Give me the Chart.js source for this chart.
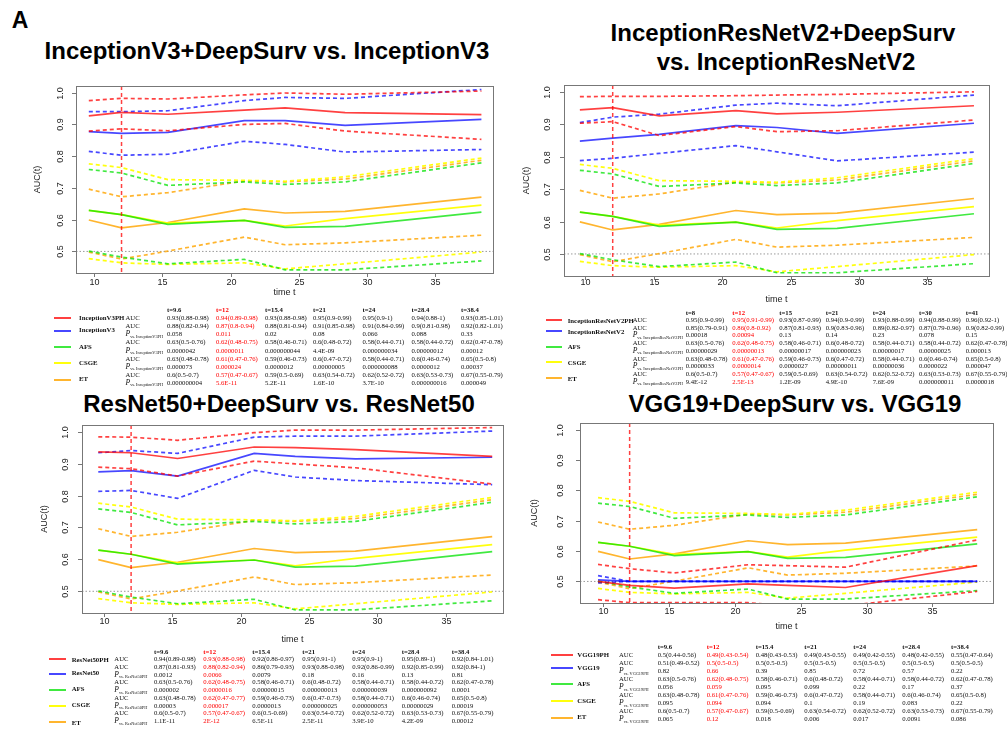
<!DOCTYPE html>
<html>
<head>
<meta charset="utf-8">
<script src="https://cdn.jsdelivr.net/npm/chart.js@4.4.1/dist/chart.umd.min.js"></script>
<style>
  body { margin: 0; background: #fff; width: 1007px; height: 731px; position: relative; overflow: hidden;
         font-family: "Liberation Sans", Arial, sans-serif; }
  canvas { position: absolute; }
  .ttl { position: absolute; font-weight: bold; font-size: 24px; line-height: 24px; white-space: nowrap;
         transform: translateX(-50%); color: #000; }
  .cell { position: absolute; font-family: "Liberation Serif", "Times New Roman", serif; font-size: 6.7px;
          line-height: 8px; white-space: nowrap; color: #111; }
  .hd { font-weight: bold; }
  .nm { font-weight: bold; font-size: 6.8px; }
  .pl i { font-size: 7.6px; }
  .pl span { font-size: 4.3px; position: relative; top: 1.5px; }
  .key { position: absolute; height: 2px; }
</style>
</head>
<body>
<div class="ttl" style="left:20px;top:9px;font-size:23px;line-height:23px;">A</div>
<div class="ttl" style="left:267px;top:39px;">InceptionV3+DeepSurv vs. InceptionV3</div>
<div class="ttl" style="left:783px;top:21px;">InceptionResNetV2+DeepSurv</div>
<div class="ttl" style="left:786px;top:50px;">vs. InceptionResNetV2</div>
<div class="ttl" style="left:279px;top:392px;">ResNet50+DeepSurv vs. ResNet50</div>
<div class="ttl" style="left:795px;top:392px;">VGG19+DeepSurv vs. VGG19</div>

<script>
// time points shown on the curves
const times = [9.6, 12, 15.4, 21, 24, 28.4, 38.4];
const markT = 12;      // red vertical marker
const refAuc = 0.5;    // grey dotted reference
const xTicks = [10, 15, 20, 25, 30, 35];
const yTicks = [0.5, 0.6, 0.7, 0.8, 0.9, 1.0];

// comparison models (same in every panel): AUC, lower, upper
const afsAuc  = [0.629, 0.616, 0.585, 0.598, 0.576, 0.579, 0.624];
const afsLo   = [0.501, 0.482, 0.461, 0.475, 0.442, 0.442, 0.470];
const afsHi   = [0.758, 0.747, 0.708, 0.719, 0.711, 0.719, 0.779];
const csgeAuc = [0.629, 0.616, 0.589, 0.598, 0.580, 0.603, 0.646];
const csgeLo  = [0.477, 0.464, 0.459, 0.464, 0.445, 0.461, 0.498];
const csgeHi  = [0.776, 0.764, 0.726, 0.724, 0.721, 0.735, 0.794];
const etAuc   = [0.599, 0.574, 0.591, 0.634, 0.621, 0.626, 0.671];
const etLo    = [0.498, 0.476, 0.501, 0.545, 0.521, 0.527, 0.551];
const etHi    = [0.696, 0.672, 0.685, 0.722, 0.719, 0.728, 0.787];

// InceptionV3
const incV3PhAuc = [0.927, 0.938, 0.932, 0.945, 0.952, 0.937, 0.931];
const incV3PhLo  = [0.879, 0.886, 0.880, 0.900, 0.903, 0.879, 0.853];
const incV3PhHi  = [0.975, 0.982, 0.980, 0.993, 0.999, 0.995, 1.005];
const incV3Auc   = [0.877, 0.872, 0.875, 0.912, 0.912, 0.897, 0.916];
const incV3Lo    = [0.815, 0.803, 0.806, 0.847, 0.837, 0.813, 0.821];
const incV3Hi    = [0.940, 0.940, 0.943, 0.975, 0.985, 0.982, 1.010];
// InceptionResNetV2
const incResPhAuc = [0.944, 0.951, 0.926, 0.942, 0.932, 0.937, 0.957];
const incResPhLo  = [0.903, 0.908, 0.865, 0.893, 0.877, 0.880, 0.913];
const incResPhHi  = [0.985, 0.986, 0.986, 0.988, 0.990, 0.992, 1.000];
const incResAuc   = [0.848, 0.857, 0.869, 0.896, 0.890, 0.872, 0.903];
const incResLo    = [0.788, 0.795, 0.810, 0.834, 0.815, 0.787, 0.814];
const incResHi    = [0.905, 0.922, 0.931, 0.959, 0.965, 0.957, 0.990];
// ResNet50
const resPhAuc = [0.937, 0.934, 0.916, 0.952, 0.950, 0.944, 0.923];
const resPhLo  = [0.889, 0.884, 0.861, 0.908, 0.899, 0.887, 0.836];
const resPhHi  = [0.984, 0.983, 0.973, 0.997, 1.005, 1.005, 1.013];
const resAuc   = [0.874, 0.878, 0.861, 0.932, 0.923, 0.915, 0.920];
const resLo    = [0.813, 0.816, 0.791, 0.879, 0.858, 0.847, 0.834];
const resHi    = [0.934, 0.941, 0.932, 0.983, 0.986, 0.986, 1.002];
// VGG19
const vggPhAuc = [0.500, 0.487, 0.478, 0.492, 0.487, 0.480, 0.552];
const vggPhLo  = [0.440, 0.430, 0.430, 0.430, 0.420, 0.420, 0.467];
const vggPhHi  = [0.556, 0.542, 0.528, 0.555, 0.552, 0.547, 0.637];
const vggAuc   = [0.505, 0.500, 0.500, 0.500, 0.500, 0.500, 0.500];
const vggLo    = [0.495, 0.500, 0.500, 0.500, 0.500, 0.500, 0.500];
const vggHi    = [0.519, 0.500, 0.500, 0.500, 0.500, 0.500, 0.500];

// table texts
const headV3  = ['t=9.6', 't=12', 't=15.4', 't=21', 't=24', 't=28.4', 't=38.4'];
const headIR  = ['t=8', 't=12', 't=15', 't=21', 't=24', 't=30', 't=41'];
const afsTxt  = ['0.63(0.5-0.76)', '0.62(0.48-0.75)', '0.58(0.46-0.71)', '0.6(0.48-0.72)', '0.58(0.44-0.71)', '0.58(0.44-0.72)', '0.62(0.47-0.78)'];
const csgeTxt = ['0.63(0.48-0.78)', '0.61(0.47-0.76)', '0.59(0.46-0.73)', '0.6(0.47-0.72)', '0.58(0.44-0.71)', '0.6(0.46-0.74)', '0.65(0.5-0.8)'];
const csgeTxtRes = ['0.63(0.48-0.78)', '0.62(0.47-0.77)', '0.59(0.46-0.73)', '0.6(0.47-0.73)', '0.58(0.44-0.71)', '0.6(0.46-0.74)', '0.65(0.5-0.8)'];
const etTxt   = ['0.6(0.5-0.7)', '0.57(0.47-0.67)', '0.59(0.5-0.69)', '0.63(0.54-0.72)', '0.62(0.52-0.72)', '0.63(0.53-0.73)', '0.67(0.55-0.79)'];
const etTxtRes = ['0.6(0.5-0.7)', '0.57(0.47-0.67)', '0.6(0.5-0.69)', '0.63(0.54-0.72)', '0.62(0.52-0.72)', '0.63(0.53-0.73)', '0.67(0.55-0.79)'];

const v3PhTxt  = ['0.93(0.88-0.98)', '0.94(0.89-0.98)', '0.93(0.88-0.98)', '0.95(0.9-0.99)', '0.95(0.9-1)', '0.94(0.88-1)', '0.93(0.85-1.01)'];
const v3Txt    = ['0.88(0.82-0.94)', '0.87(0.8-0.94)', '0.88(0.81-0.94)', '0.91(0.85-0.98)', '0.91(0.84-0.99)', '0.9(0.81-0.98)', '0.92(0.82-1.01)'];
const v3P      = ['0.058', '0.011', '0.02', '0.08', '0.066', '0.088', '0.33'];
const v3PAfs   = ['0.0000042', '0.0000011', '0.000000044', '4.4E-09', '0.000000034', '0.00000012', '0.00012'];
const v3PCsge  = ['0.000073', '0.000024', '0.0000012', '0.00000005', '0.000000088', '0.0000012', '0.00037'];
const v3PEt    = ['0.000000004', '5.6E-11', '5.2E-11', '1.6E-10', '3.7E-10', '0.000000016', '0.000049'];

const irPhTxt  = ['0.95(0.9-0.99)', '0.95(0.91-0.99)', '0.93(0.87-0.99)', '0.94(0.9-0.99)', '0.93(0.88-0.99)', '0.94(0.88-0.99)', '0.96(0.92-1)'];
const irTxt    = ['0.85(0.79-0.91)', '0.86(0.8-0.92)', '0.87(0.81-0.93)', '0.9(0.83-0.96)', '0.89(0.82-0.97)', '0.87(0.79-0.96)', '0.9(0.82-0.99)'];
const irP      = ['0.00018', '0.00094', '0.13', '0.14', '0.23', '0.078', '0.15'];
const irPAfs   = ['0.00000029', '0.00000013', '0.00000017', '0.000000023', '0.00000017', '0.00000025', '0.000013'];
const irPCsge  = ['0.0000033', '0.0000014', '0.0000027', '0.00000011', '0.00000036', '0.0000022', '0.000047'];
const irPEt    = ['9.4E-12', '2.5E-13', '1.2E-09', '4.9E-10', '7.6E-09', '0.000000011', '0.0000018'];

const rnPhTxt  = ['0.94(0.89-0.98)', '0.93(0.88-0.98)', '0.92(0.86-0.97)', '0.95(0.91-1)', '0.95(0.9-1)', '0.95(0.89-1)', '0.92(0.84-1.01)'];
const rnTxt    = ['0.87(0.81-0.93)', '0.88(0.82-0.94)', '0.86(0.79-0.93)', '0.93(0.88-0.98)', '0.92(0.86-0.99)', '0.92(0.85-0.99)', '0.92(0.84-1)'];
const rnP      = ['0.0012', '0.0066', '0.0079', '0.18', '0.16', '0.13', '0.81'];
const rnPAfs   = ['0.000002', '0.0000016', '0.00000015', '0.000000013', '0.000000039', '0.000000092', '0.0001'];
const rnPCsge  = ['0.00003', '0.000017', '0.0000013', '0.000000025', '0.000000053', '0.00000029', '0.00019'];
const rnPEt    = ['1.1E-11', '2E-12', '6.5E-11', '2.5E-11', '3.9E-10', '4.2E-09', '0.00012'];

const vgPhTxt  = ['0.5(0.44-0.56)', '0.49(0.43-0.54)', '0.48(0.43-0.53)', '0.49(0.43-0.55)', '0.49(0.42-0.55)', '0.48(0.42-0.55)', '0.55(0.47-0.64)'];
const vgTxt    = ['0.51(0.49-0.52)', '0.5(0.5-0.5)', '0.5(0.5-0.5)', '0.5(0.5-0.5)', '0.5(0.5-0.5)', '0.5(0.5-0.5)', '0.5(0.5-0.5)'];
const vgP      = ['0.82', '0.66', '0.39', '0.85', '0.72', '0.57', '0.22'];
const vgPAfs   = ['0.056', '0.059', '0.095', '0.099', '0.22', '0.17', '0.37'];
const vgPCsge  = ['0.095', '0.094', '0.094', '0.1', '0.19', '0.083', '0.22'];
const vgPEt    = ['0.065', '0.12', '0.018', '0.006', '0.017', '0.0091', '0.086'];

const colors = ['rgba(255,0,0,0.75)', 'rgba(0,0,255,0.72)', 'rgba(0,225,0,0.75)', 'rgba(255,255,0,0.95)', 'rgba(255,165,0,0.82)'];

// R-like frame: box, ticks, rotated y labels, reference lines
const rFrame = {
  id: 'rFrame',
  beforeDatasetsDraw(chart) {
    const { ctx, chartArea: a, scales: { y } } = chart;
    const yy = y.getPixelForValue(refAuc);
    ctx.save();
    ctx.strokeStyle = '#999';
    ctx.lineWidth = 1;
    ctx.setLineDash([1.5, 2]);
    ctx.beginPath(); ctx.moveTo(a.left, yy); ctx.lineTo(a.right, yy); ctx.stroke();
    ctx.restore();
  },
  afterDatasetsDraw(chart) {
    const { ctx, chartArea: a, scales: { x } } = chart;
    const xx = x.getPixelForValue(markT);
    ctx.save();
    ctx.strokeStyle = 'rgba(255,0,0,0.75)';
    ctx.lineWidth = 1.5;
    ctx.setLineDash([4, 3]);
    ctx.beginPath(); ctx.moveTo(xx, a.top); ctx.lineTo(xx, a.bottom); ctx.stroke();
    ctx.restore();
  },
  afterDraw(chart, args, o) {
    const { ctx, chartArea: a, scales: { x, y } } = chart;
    ctx.save();
    ctx.strokeStyle = '#777';
    ctx.lineWidth = 1;
    ctx.strokeRect(Math.round(a.left) + 0.5, Math.round(a.top) + 0.5, Math.round(a.right - a.left), Math.round(a.bottom - a.top));
    ctx.fillStyle = '#222';
    ctx.font = '9px "Liberation Sans", Arial, sans-serif';
    ctx.textAlign = 'center';
    ctx.textBaseline = 'middle';
    xTicks.forEach(t => {
      const px = Math.round(x.getPixelForValue(t)) + 0.5;
      ctx.beginPath(); ctx.moveTo(px, a.bottom); ctx.lineTo(px, a.bottom + 4); ctx.stroke();
      ctx.fillText(String(t), px, a.bottom + o.xtickDy);
    });
    yTicks.forEach(t => {
      const py = Math.round(y.getPixelForValue(t)) + 0.5;
      ctx.beginPath(); ctx.moveTo(a.left, py); ctx.lineTo(a.left - 4, py); ctx.stroke();
      ctx.save();
      ctx.translate(a.left - o.ytickDx, py);
      ctx.rotate(-Math.PI / 2);
      ctx.fillText(t.toFixed(1), 0, 0);
      ctx.restore();
    });
    ctx.fillText('time t', (a.left + a.right) / 2, a.bottom + o.xlabDy);
    ctx.save();
    ctx.translate(a.left - o.ylabDx, (a.top + a.bottom) / 2);
    ctx.rotate(-Math.PI / 2);
    ctx.fillText('AUC(t)', 0, 0);
    ctx.restore();
    ctx.restore();
  }
};

const panels = [
  { box: [76, 86, 493, 273], xr: [8.66, 39.25], yr: [0.432, 1.021],
    series: [[incV3PhAuc, incV3PhLo, incV3PhHi], [incV3Auc, incV3Lo, incV3Hi]],
    frame: { xtickDy: 9.5, xlabDy: 19.5, ytickDx: 15.5, ylabDx: 38 },
    head: headV3, names: ['InceptionV3PH', 'InceptionV3', 'AFS', 'CSGE', 'ET'], sub: 'vs. InceptionV3PH',
    rows: [v3PhTxt, v3Txt, v3P, afsTxt, v3PAfs, csgeTxt, v3PCsge, etTxt, v3PEt],
    tab: { colX: [167, 216, 265, 313, 362.5, 411.5, 461], headY: 310, rowY: 318.3, step: 8.05, labX: 125.5,
           keyX: 54, keyW: 17, nameX: 79, keyY: [318.3, 331, 347.3, 362.7, 380], nameY: [318.3, 329.5, 347.3, 362.7, 379.3] } },
  { box: [564, 85, 989, 276], xr: [8.44, 39.5], yr: [0.432, 1.021],
    series: [[incResPhAuc, incResPhLo, incResPhHi], [incResAuc, incResLo, incResHi]],
    frame: { xtickDy: 7, xlabDy: 23.5, ytickDx: 16, ylabDx: 37 },
    head: headIR, names: ['InceptionResNetV2PH', 'InceptionResNetV2', 'AFS', 'CSGE', 'ET'], sub: 'vs. InceptionResNetV2PH',
    rows: [irPhTxt, irTxt, irP, afsTxt, irPAfs, csgeTxt, irPCsge, etTxt, irPEt],
    tab: { colX: [685.7, 732.3, 779.3, 825.7, 872.7, 919, 965.7], headY: 313.3, rowY: 320, step: 7.7, labX: 632.7,
           keyX: 546, keyW: 16, nameX: 567.7, keyY: [320, 330.7, 346.7, 362, 378.3], nameY: [320.7, 331.7, 347.3, 362.7, 379.3] } },
  { box: [82, 425, 503, 613], xr: [8.41, 39.19], yr: [0.432, 1.021],
    series: [[resPhAuc, resPhLo, resPhHi], [resAuc, resLo, resHi]],
    frame: { xtickDy: 8.5, xlabDy: 27, ytickDx: 16, ylabDx: 37 },
    head: headV3, names: ['ResNet50PH', 'ResNet50', 'AFS', 'CSGE', 'ET'], sub: 'vs. ResNet50PH',
    rows: [rnPhTxt, rnTxt, rnP, afsTxt, rnPAfs, csgeTxtRes, rnPCsge, etTxtRes, rnPEt],
    tab: { colX: [154, 203.3, 252.3, 302.3, 352.3, 401.7, 451.7], headY: 652.3, rowY: 659, step: 7.75, labX: 114.3,
           keyX: 49, keyW: 17, nameX: 71.7, keyY: [659.3, 674.3, 690, 706, 722], nameY: [660, 672.7, 689.3, 705, 722.7] } },
  { box: [580, 423, 993, 603], xr: [8.23, 39.6], yr: [0.429, 1.022],
    series: [[vggPhAuc, vggPhLo, vggPhHi], [vggAuc, vggLo, vggHi]],
    frame: { xtickDy: 8.5, xlabDy: 24, ytickDx: 19, ylabDx: 45 },
    head: headV3, names: ['VGG19PH', 'VGG19', 'AFS', 'CSGE', 'ET'], sub: 'vs. VGG19PH',
    rows: [vgPhTxt, vgTxt, vgP, afsTxt, vgPAfs, csgeTxt, vgPCsge, etTxt, vgPEt],
    tab: { colX: [657.7, 706.7, 755.7, 804.3, 853.3, 902.3, 951], headY: 647.3, rowY: 655, step: 8.04, labX: 619,
           keyX: 551, keyW: 22, nameX: 577.3, keyY: [655, 667.7, 684, 701, 718.3], nameY: [655, 667.7, 683.5, 700.5, 717] } }
];

const PADL = 75, PADT = 8, PADR = 10, PADB = 37;

function addDiv(cls, x, y, html, color) {
  const d = document.createElement('div');
  d.className = cls;
  d.style.left = x + 'px';
  d.style.top = (y - 4) + 'px';
  d.innerHTML = html;
  if (color) d.style.color = color;
  document.body.appendChild(d);
  return d;
}

panels.forEach(p => {
  const [l, t, r, b] = p.box;
  const cv = document.createElement('canvas');
  cv.width = r - l + PADL + PADR;
  cv.height = b - t + PADT + PADB;
  cv.style.left = (l - PADL) + 'px';
  cv.style.top = (t - PADT) + 'px';
  document.body.appendChild(cv);

  const all = [p.series[0], p.series[1], [afsAuc, afsLo, afsHi], [csgeAuc, csgeLo, csgeHi], [etAuc, etLo, etHi]];
  const datasets = [];
  all.forEach((grp, gi) => {
    grp.forEach((vals, k) => {
      datasets.push({
        data: times.map((tt, i) => ({ x: tt, y: vals[i] })),
        borderColor: colors[gi],
        borderWidth: 1.7,
        borderDash: k === 0 ? [] : [4, 3],
        pointRadius: 0,
        tension: 0,
        fill: false,
        clip: 0
      });
    });
  });

  new Chart(cv, {
    type: 'line',
    data: { datasets: datasets },
    options: {
      responsive: false,
      animation: false,
      devicePixelRatio: 1,
      events: [],
      layout: { padding: { left: PADL, top: PADT, right: PADR, bottom: PADB } },
      scales: {
        x: { type: 'linear', min: p.xr[0], max: p.xr[1], display: false },
        y: { type: 'linear', min: p.yr[0], max: p.yr[1], display: false }
      },
      plugins: { legend: { display: false }, tooltip: { enabled: false }, rFrame: p.frame }
    },
    plugins: [rFrame]
  });

  // table under the plot
  const tb = p.tab;
  p.head.forEach((h, c) => addDiv('cell hd', tb.colX[c], tb.headY, h, c === 1 ? '#ff0000' : null));
  p.rows.forEach((row, ri) => {
    const y = tb.rowY + ri * tb.step;
    if (ri === 0 || ri % 2 === 1) addDiv('cell', tb.labX, y, 'AUC');
    else addDiv('cell pl', tb.labX, y, '<i>P</i><span>' + p.sub + '</span>');
    row.forEach((v, c) => addDiv('cell', tb.colX[c], y, v, c === 1 ? '#ff0000' : null));
  });
  p.names.forEach((nm, i) => {
    const k = document.createElement('div');
    k.className = 'key';
    k.style.left = tb.keyX + 'px';
    k.style.top = (tb.keyY[i] - 1) + 'px';
    k.style.width = tb.keyW + 'px';
    k.style.background = colors[i];
    document.body.appendChild(k);
    addDiv('cell nm', tb.nameX, tb.nameY[i], nm);
  });
});
</script>
</body>
</html>
